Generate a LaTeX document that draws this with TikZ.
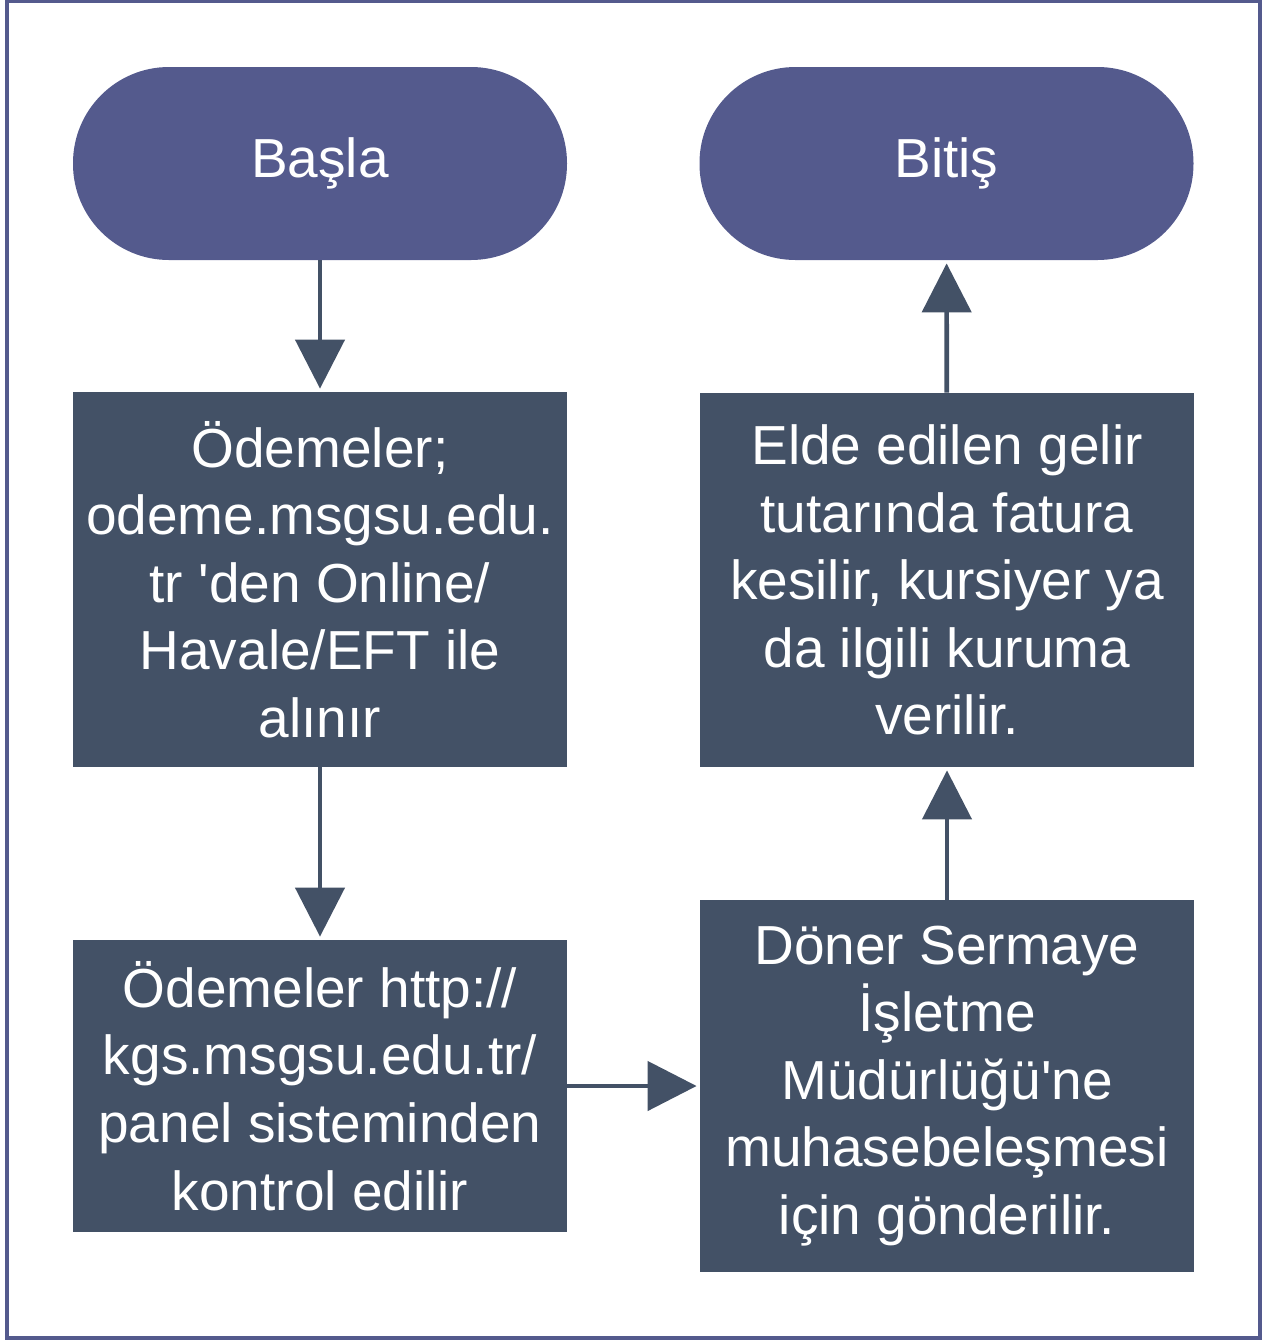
\documentclass[tikz,border=0pt]{standalone}
\usepackage{fontspec}
\setmainfont{Liberation Sans}
\usetikzlibrary{arrows.meta}
\definecolor{pillc}{HTML}{545A8D}
\definecolor{boxc}{HTML}{435166}
\definecolor{framec}{HTML}{545A8D}
\begin{document}
\begin{tikzpicture}[x=0.5pt,y=-0.5pt,
  txt/.style={text=white, align=center, inner sep=0pt, font=\fontsize{27.5pt}{33.8pt}\selectfont},
  pill/.style={txt, fill=pillc, rounded corners=48pt, minimum width=247pt, minimum height=96.5pt},
  proc/.style={txt, fill=boxc, minimum width=247pt},
  arr/.style={draw=boxc, line width=2.3pt, -{Triangle[width=24.5pt,length=24.5pt]}, shorten >=1.5pt}]
\useasboundingbox (0,0) rectangle (1267,1340);
\draw[framec, line width=2pt] (6.5,1) rectangle (1259.5,1337.5);
\node[pill] (start) at (320,163.5) {Başla};
\node[pill] (end) at (946.5,163.5) {Bitiş};
\node[proc, minimum height=187.5pt] (b1) at (320,579.5) {Ödemeler;\\odeme.msgsu.edu.\\tr \textquotesingle den Online/\\Havale/EFT ile\\alınır};
\node[proc, minimum height=146pt] (b2) at (320,1086) {Ödemeler http://\\kgs.msgsu.edu.tr/\\panel sisteminden\\kontrol edilir};
\node[proc, minimum height=186pt] (b3) at (947,1086) {Döner Sermaye\\İşletme\\Müdürlüğü\textquotesingle ne\\muhasebeleşmesi\\için gönderilir.};
\node[proc, minimum height=187pt] (b4) at (947,580) {Elde edilen gelir\\tutarında fatura\\kesilir, kursiyer ya\\da ilgili kuruma\\verilir.};
\draw[arr] (start) -- (b1);
\draw[arr] (b1) -- (b2);
\draw[arr] (b2) -- (b3);
\draw[arr] (b3) -- (b4);
\draw[arr] (b4) -- (end);
\end{tikzpicture}
\end{document}
